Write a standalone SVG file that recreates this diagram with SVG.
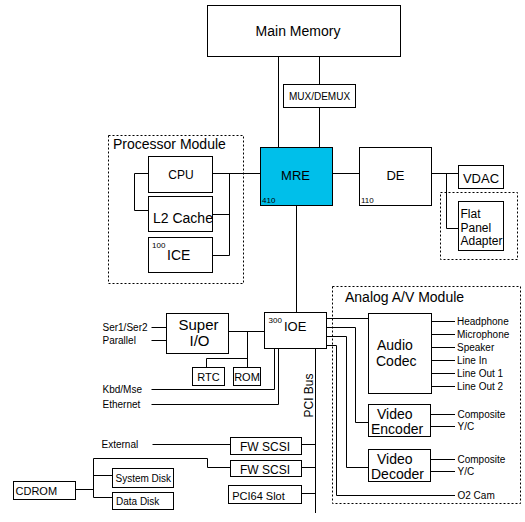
<svg xmlns="http://www.w3.org/2000/svg" width="525" height="522" viewBox="0 0 525 522">
<style>
.b{fill:#fff;stroke:#000;stroke-width:1}
.m{fill:#00bfea;stroke:#000;stroke-width:1}
.d{fill:none;stroke:#000;stroke-width:1;stroke-dasharray:2,2}
.c{fill:none;stroke:#000;stroke-width:1}
text{font-family:"Liberation Sans",Arial,sans-serif;fill:#000}
.t14{font-size:14px}
.t13{font-size:13px}
.t12{font-size:12px}
.t11{font-size:11px}
.t10{font-size:10px}
.t8{font-size:8px}
.t15{font-size:15px}
.mid{text-anchor:middle}
</style>
<rect width="525" height="522" fill="#fff"/>
<g id="connectors">
<path class="c" d="M278.5,56V147M319.5,56V84M319.5,107V147"/>
<path class="c" d="M212.5,173.5H260.5M229.5,173.5V255.5M212.5,214.5H229.5M212.5,255.5H229.5"/>
<path class="c" d="M148.5,173.5H134.5V210.5H148.5"/>
<path class="c" d="M332.5,173.5H359.5"/>
<path class="c" d="M431.5,173.5H458.5M446.5,173.5V228.5H458.5"/>
<path class="c" d="M296.5,205V312.5"/>
<path class="c" d="M229,331.5H264.5M247.5,331.5V367.5M206.5,358.5H247.5M206.5,358.5V367.5"/>
<path class="c" d="M151.5,327.5H166.5M151.5,340.5H166.5"/>
<path class="c" d="M151.5,389.5H274.5V349M151.5,404.5H278.5V349"/>
<path class="c" d="M315.5,349V513"/>
<path class="c" d="M302,444.5H315.5M302,467.5H315.5M302,493.5H315.5"/>
<path class="c" d="M152.5,444.5H230"/>
<path class="c" d="M230,467.5H207.5V458.5H93.5V497.5H112.5M93.5,475.5H112.5M76,489.5H93.5"/>
<path class="c" d="M327,318.5H368.5M327,327.5H355.5V422.5H368.5M327,336.5H346.5V467.5H368.5M327,345.5H336.5V495.5H455"/>
<path class="c" d="M431.5,321.5H455M431.5,334.5H455M431.5,347.5H455M431.5,360.5H455M431.5,373.5H455M431.5,386.5H455"/>
<path class="c" d="M431,414.5H455M431,426.5H455M431,459.5H455M431,471.5H455"/>
</g>
<g id="main-memory">
<rect class="b" x="207.5" y="5.5" width="193" height="51"/>
<text class="t14 mid" x="298" y="36">Main Memory</text>
</g>
<g id="mux-demux">
<rect class="b" x="283.5" y="84.5" width="72" height="23"/>
<text class="t10 mid" x="319.5" y="100">MUX/DEMUX</text>
</g>
<g id="processor-module">
<rect class="d" x="108.5" y="135.5" width="135" height="148"/>
<text class="t14" x="113" y="148.5">Processor  Module</text>
</g>
<g id="cpu">
<rect class="b" x="148.5" y="156.5" width="64" height="36"/>
<text class="t12 mid" x="181" y="179">CPU</text>
</g>
<g id="l2-cache">
<rect class="b" x="148.5" y="196.5" width="64" height="35"/>
<text class="t14" x="153" y="222.5">L2 Cache</text>
</g>
<g id="ice">
<rect class="b" x="148.5" y="237.5" width="64" height="35"/>
<text class="t8" x="152" y="247.5">100</text>
<text class="t14" x="167" y="259.5">ICE</text>
</g>
<g id="mre">
<rect class="m" x="260.5" y="147.5" width="72" height="58"/>
<text class="t13 mid" x="295.5" y="179.5">MRE</text>
<text class="t8" x="262" y="203">410</text>
</g>
<g id="de">
<rect class="b" x="359.5" y="147.5" width="72" height="58"/>
<text class="t13 mid" x="395.5" y="179.5">DE</text>
<text class="t8" x="361" y="203">110</text>
</g>
<g id="vdac">
<rect class="b" x="458.5" y="165.5" width="45" height="23"/>
<text class="t13 mid" x="481" y="182.5">VDAC</text>
</g>
<g id="flat-panel-adapter">
<rect class="d" x="440.5" y="192.5" width="77" height="67"/>
<rect class="b" x="458.5" y="201.5" width="45" height="49"/>
<text class="t12" x="460.5" y="217.5">Flat</text>
<text class="t12" x="460.5" y="231.5">Panel</text>
<text class="t12" x="460.5" y="245">Adapter</text>
</g>
<g id="super-io">
<rect class="b" x="166.5" y="313.5" width="62" height="40"/>
<text class="t15 mid" x="198.5" y="329.5">Super</text>
<text class="t15 mid" x="199.5" y="345.5">I/O</text>
<text class="t10" x="102.5" y="331">Ser1/Ser2</text>
<text class="t10" x="102.5" y="344">Parallel</text>
</g>
<g id="rtc">
<rect class="b" x="192.5" y="367.5" width="32" height="18"/>
<text class="t11 mid" x="208.5" y="380.5">RTC</text>
</g>
<g id="rom">
<rect class="b" x="233.5" y="367.5" width="27" height="18"/>
<text class="t11 mid" x="247" y="380.5">ROM</text>
</g>
<g id="ioe">
<rect class="b" x="264.5" y="312.5" width="62" height="36"/>
<text class="t8" x="268.5" y="322.5">300</text>
<text class="t13" x="284" y="331">IOE</text>
</g>
<g id="kbd-ethernet">
<text class="t10" x="102.5" y="393">Kbd/Mse</text>
<text class="t10" x="102.5" y="408">Ethernet</text>
</g>
<g id="pci-bus">
<text class="t12 mid" transform="translate(312.5,395.5) rotate(-90)">PCI Bus</text>
</g>
<g id="fw-scsi-1">
<rect class="b" x="230.5" y="437.5" width="71" height="17"/>
<text class="t12 mid" x="265" y="451">FW SCSI</text>
<text class="t10" x="101.5" y="448">External</text>
</g>
<g id="fw-scsi-2">
<rect class="b" x="230.5" y="460.5" width="71" height="16"/>
<text class="t12 mid" x="265" y="474">FW SCSI</text>
</g>
<g id="pci64-slot">
<rect class="b" x="228.5" y="485.5" width="73" height="18"/>
<text class="t11 mid" x="258.5" y="499.5">PCI64 Slot</text>
</g>
<g id="cdrom">
<rect class="b" x="13.5" y="481.5" width="62" height="18"/>
<text class="t11" x="15.5" y="494.5">CDROM</text>
</g>
<g id="system-disk">
<rect class="b" x="112.5" y="468.5" width="61" height="19"/>
<text class="t10" x="115.5" y="482">System Disk</text>
</g>
<g id="data-disk">
<rect class="b" x="112.5" y="492.5" width="61" height="17"/>
<text class="t10" x="116" y="505">Data Disk</text>
</g>
<g id="analog-av-module">
<rect class="d" x="332.5" y="286.5" width="188" height="217"/>
<text class="t14" x="345" y="302">Analog A/V Module</text>
</g>
<g id="audio-codec">
<rect class="b" x="368.5" y="313.5" width="63" height="80"/>
<text class="t14" x="377" y="349.5">Audio</text>
<text class="t14" x="376" y="366">Codec</text>
<text class="t10" x="457" y="325">Headphone</text>
<text class="t10" x="457" y="338">Microphone</text>
<text class="t10" x="457" y="351">Speaker</text>
<text class="t10" x="457" y="364">Line In</text>
<text class="t10" x="457" y="377">Line Out 1</text>
<text class="t10" x="457" y="390">Line Out 2</text>
</g>
<g id="video-encoder">
<rect class="b" x="368.5" y="404.5" width="62" height="32"/>
<text class="t14" x="377" y="418.5">Video</text>
<text class="t14" x="371" y="434">Encoder</text>
<text class="t10" x="457.5" y="418">Composite</text>
<text class="t10" x="457.5" y="430">Y/C</text>
</g>
<g id="video-decoder">
<rect class="b" x="368.5" y="449.5" width="62" height="32"/>
<text class="t14" x="377" y="463.5">Video</text>
<text class="t14" x="371" y="479">Decoder</text>
<text class="t10" x="457.5" y="463">Composite</text>
<text class="t10" x="457.5" y="475">Y/C</text>
<text class="t10" x="457.5" y="499">O2 Cam</text>
</g>
</svg>
